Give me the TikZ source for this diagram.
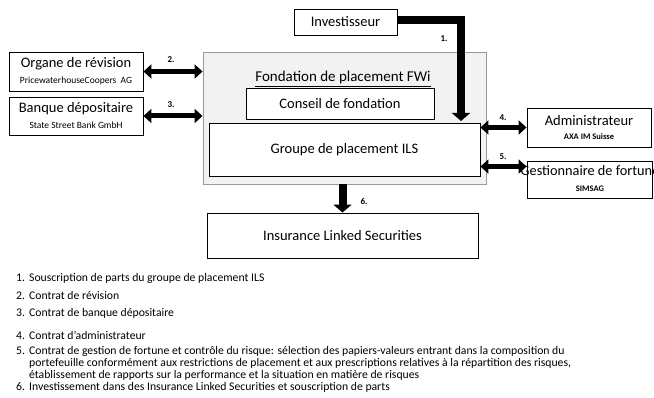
\documentclass[tikz,border=0pt]{standalone}
\usepackage{fontspec}
\setmainfont{Carlito}
\usetikzlibrary{arrows.meta,calc}
\begin{document}
\begin{tikzpicture}[x=1pt,y=-1pt,
 box/.style={draw=black, line width=0.9pt, fill=white, inner sep=0pt, align=center, font=\fontsize{14.5}{15}\selectfont},
 big/.style={line width=8pt, -{Triangle[width=18pt,length=8pt]}},
 dbl/.style={line width=5pt, {Triangle[width=14pt,length=8pt]}-{Triangle[width=14pt,length=8pt]}},
 num/.style={font=\fontsize{9}{10}\selectfont\bfseries, inner sep=0pt},
 item/.style={anchor=west, inner sep=0pt, font=\fontsize{11.7}{12}\selectfont}]
\newcommand{\smalltxt}{\fontsize{9.5}{11}\selectfont}
\newcommand{\smallbf}{\fontsize{8.5}{11}\selectfont\bfseries}
\newcommand{\numbox}[1]{\makebox[13pt][l]{#1}}
\useasboundingbox (0,0) rectangle (654,398);
% main foundation
\node[draw=gray!80, line width=0.9pt, fill=gray!10, minimum width=283pt, minimum height=132pt, inner sep=0pt] (fond) at (344.5,118) {};
\node[font=\fontsize{15}{15}\selectfont, inner sep=0pt] (ftitle) at (343,79) {\underline{Fondation de placement FWi}};
\node[box, minimum width=188pt, minimum height=31pt] (cons) at (340,103.5) {Conseil de fondation};
\node[box, minimum width=271pt, minimum height=53pt] (grp) at (344.5,149.5) {Groupe de placement ILS};
% other boxes
\node[box, minimum width=103pt, minimum height=26pt] (inv) at (345.5,22) {Investisseur};
\node[box, minimum width=134pt, minimum height=39pt] (org) at (76,71.5) {Organe de révision\\[1pt]{\smalltxt PricewaterhouseCoopers\ \ AG}};
\node[box, minimum width=134pt, minimum height=38pt] (ban) at (76,116) {Banque dépositaire\\[1pt]{\smalltxt State Street Bank GmbH}};
\node[box, minimum width=124pt, minimum height=39pt] (adm) at (589,127.5) {Administrateur\\[-1pt]{\smallbf AXA IM Suisse}};
\node[box, minimum width=125pt, minimum height=37pt] (ges) at (589.5,179.5) {};
\node[font=\fontsize{14.3}{15}\selectfont, align=center, inner sep=0pt] (gestxt) at (590,179) {Gestionnaire de fortune\\[1pt]{\smallbf SIMSAG}};
\node[box, minimum width=271pt, minimum height=45pt] (ins) at (342.5,235.5) {Insurance Linked Securities};
% connectors
\coordinate (a1) at (461,121);
\draw[big] ([yshift=2pt]inv.east) -| (a1);
\draw[big] (ins.north |- fond.south) -- (ins.north);
\draw[dbl] (org.east) -- (org.east -| fond.west);
\draw[dbl] (ban.east) -- (ban.east -| fond.west);
\draw[dbl] (adm.west -| grp.east) -- (adm.west);
\path ([yshift=-6pt]ges.north west) coordinate (g5);
\draw[dbl] (g5 -| grp.east) -- (g5);
% labels
\node[num] (l1) at (444,39) {1.};
\node[num] (l2) at (171,60) {2.};
\node[num] (l3) at (171,105) {3.};
\node[num] (l4) at (503,118) {4.};
\node[num] (l5) at (503,157) {5.};
\node[num] (l6) at (364,201) {6.};
% list
\node[item] (i1) at (16,278) {\numbox{1.}Souscription de parts du groupe de placement ILS};
\node[item] (i2) at (16,295) {\numbox{2.}Contrat de révision};
\node[item] (i3) at (16,313) {\numbox{3.}Contrat de banque\ dépositaire};
\node[item] (i4) at (16,335) {\numbox{4.}Contrat\ d’administrateur};
\node[item] (i5) at (16,351) {\numbox{5.}Contrat de gestion de fortune et contrôle du risque: sélection des papiers-valeurs entrant dans la composition du};
\node[item] (i5b) at (29,363) {portefeuille conformément aux restrictions de placement et aux prescriptions relatives à la répartition des risques,};
\node[item] (i5c) at (29,375) {établissement de rapports sur la performance et la situation en matière de risques};
\node[item] (i6) at (16,387) {\numbox{6.}Investissement dans des Insurance Linked Securities et souscription de parts};
\end{tikzpicture}
\end{document}
